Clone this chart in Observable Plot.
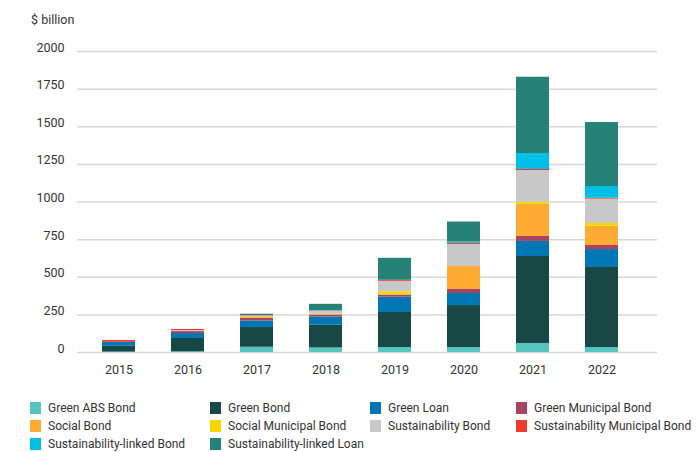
<!DOCTYPE html>
<html>
<head>
<meta charset="utf-8">
<script src="https://cdn.jsdelivr.net/npm/d3@7"></script>
<script src="https://cdn.jsdelivr.net/npm/@observablehq/plot@0.6"></script>
<style>
  body { margin: 0; background: #fff; font-family: Roboto, "Liberation Sans", sans-serif; }
  #wrap { position: relative; width: 696px; height: 452px; }
  #unit { position: absolute; left: 31px; top: 12px; font-size: 12.5px; color: #333; }
  #legend { position: absolute; left: 30px; top: 399px; display: grid;
    grid-template-columns: 180px 160px 146px auto; grid-auto-rows: 18px; font-size: 12px; color: #333; }
  .item { display: flex; align-items: center; white-space: nowrap; }
  .sw { width: 11px; height: 12px; margin-right: 7px; flex: none; }
</style>
</head>
<body>
<div id="wrap">
  <div id="chart"></div>
  <div id="unit">$ billion</div>
  <div id="legend"></div>
</div>
<script>
const years = ["2015", "2016", "2017", "2018", "2019", "2020", "2021", "2022"];
const types = ["Green ABS Bond", "Green Bond", "Green Loan", "Green Municipal Bond",
  "Social Bond", "Social Municipal Bond", "Sustainability Bond", "Sustainability Municipal Bond",
  "Sustainability-linked Bond", "Sustainability-linked Loan"];
const colors = ["#56c5bd", "#174845", "#0077b4", "#a8445e", "#ffaa33", "#f5d800",
  "#c8c8c8", "#ef3a2e", "#00bfe6", "#268276"];
const yTicks = [0, 250, 500, 750, 1000, 1250, 1500, 1750, 2000];

const greenABS    = [3, 5, 35, 30, 33, 33, 60, 33];
const greenBond   = [38, 88, 131, 151, 233, 279, 578, 532];
const greenLoan   = [27, 33, 44, 55, 102, 80, 100, 119];
const greenMuni   = [0, 13, 18, 13, 13, 27, 33, 27];
const socialBond  = [0, 0, 9, 5, 5, 152, 212, 128];
const socialMuni  = [0, 0, 3, 2, 18, 0, 14, 18];
const sustBond    = [0, 7, 3, 20, 69, 147, 212, 162];
const sustMuni    = [12, 7, 2, 0, 7, 7, 7, 6];
const slBond      = [0, 0, 0, 0, 0, 9, 106, 78];
const slLoan      = [0, 0, 9, 44, 146, 133, 507, 425];

const series = [greenABS, greenBond, greenLoan, greenMuni, socialBond, socialMuni,
  sustBond, sustMuni, slBond, slLoan];

const data = [];
years.forEach((yr, i) => {
  series.forEach((s, j) => {
    if (s[i] > 0) data.push({year: yr, type: types[j], value: s[i]});
  });
});

const chart = Plot.plot({
  width: 696,
  height: 385,
  marginLeft: 77,
  marginRight: 39,
  marginTop: 51,
  marginBottom: 33,
  style: {fontFamily: "Roboto, 'Liberation Sans', sans-serif", fontSize: "12.5px", color: "#333"},
  x: {domain: years, paddingInner: 0.524, paddingOuter: 0.447, align: 0.387, label: null},
  y: {domain: [0, 2000], label: null},
  color: {domain: types, range: colors},
  marks: [
    Plot.ruleY(yTicks, {stroke: "#d8d8d8", strokeWidth: 1.5}),
    Plot.barY(data, Plot.stackY({order: null}, {x: "year", y: "value", fill: "type"})),
    Plot.axisX({tickSize: 0, tickPadding: 13, label: null}),
    Plot.axisY({ticks: yTicks, tickSize: 0, tickPadding: 13, dy: -4, label: null, tickFormat: d => String(d)})
  ]
});
document.getElementById("chart").appendChild(chart);

const legend = document.getElementById("legend");
types.forEach((t, i) => {
  const it = document.createElement("div");
  it.className = "item";
  const sw = document.createElement("span");
  sw.className = "sw";
  sw.style.background = colors[i];
  it.appendChild(sw);
  it.appendChild(document.createTextNode(t));
  legend.appendChild(it);
});
</script>
</body>
</html>
